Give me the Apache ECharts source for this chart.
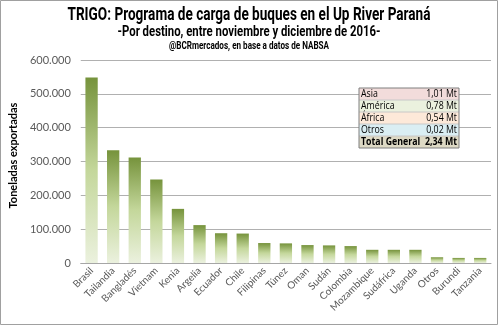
<!DOCTYPE html>
<html><head><meta charset="utf-8">
<script src="https://cdn.jsdelivr.net/npm/echarts@6/dist/echarts.min.js"></script>
<style>html,body{margin:0;padding:0;background:#fff}#c{width:499px;height:326px}</style>
</head><body><div id="c"></div>
<script>
const categories = ["Brasil","Tailandia","Bangladés","Vietnam","Kenia","Argelia","Ecuador","Chile","Filipinas","Túnez","Oman","Sudán","Colombia","Mozambique","Sudáfrica","Uganda","Otros","Burundi","Tanzania"];
const tonnes = [548000,333000,312000,247000,160000,112000,88000,87000,59000,58000,53000,52000,50000,39000,39000,39000,17000,15000,15000];
const yTicks = [0,100000,200000,300000,400000,500000,600000];
const regionNames = ["Asia","América","África","Otros","Total General"];
const regionValues = ["1,01 Mt","0,78 Mt","0,54 Mt","0,02 Mt","2,34 Mt"];
const regionColors = ["#f2dcdb","#ebf1de","#fde9d9","#daeef3","#ddd9c4"];
const titleLines = ["TRIGO: Programa de carga de buques en el Up River Paraná","-Por destino, entre noviembre y diciembre de 2016-","@BCRmercados, en base a datos de NABSA"];

const chart = echarts.init(document.getElementById('c'));
const fmt = v => String(v).replace(/\B(?=(\d{3})+(?!\d))/g, '.');

const cv = document.createElement('canvas').getContext('2d');
const titleSpecs = [{size:19,w:363,y:15},{size:15,w:263,y:32},{size:10.5,w:160,y:46}];
const titleEls = titleLines.map((t,i)=>{
  const s = titleSpecs[i];
  cv.font = 'bold '+s.size+'px Roboto';
  const w = cv.measureText(t).width;
  return {type:'text',x:249,y:s.y,scaleX:s.w/w,
    style:{text:t,fontSize:s.size,fontWeight:'bold',fontFamily:'Roboto',fill:'#000',align:'center',verticalAlign:'middle'},z:15};
});

const tx = 359, ty = 88, tw = 100, rh = 12;
const tableEls = [];
const tf = '"Open Sans",sans-serif';
regionNames.forEach((n,i)=>{
  const cy = ty+i*rh+rh/2;
  tableEls.push({type:'rect',shape:{x:tx,y:ty+i*rh,width:tw,height:rh},style:{fill:regionColors[i],stroke:null},z:10});
  tableEls.push({type:'text',x:tx+2,y:cy,scaleX:0.88,style:{text:n,fontSize:10,fontWeight:i===4?'bold':'normal',fill:'#000',verticalAlign:'middle',fontFamily:tf},z:11});
  tableEls.push({type:'text',x:tx+tw-2,y:cy,scaleX:0.88,style:{text:regionValues[i],fontSize:10,fontWeight:i===4?'bold':'normal',fill:'#000',align:'right',verticalAlign:'middle',fontFamily:tf},z:11});
  if(i>0) tableEls.push({type:'line',shape:{x1:tx,y1:ty+i*rh,x2:tx+tw,y2:ty+i*rh},style:{stroke:'#c8c8c8',lineWidth:1},z:11});
});
tableEls.push({type:'rect',shape:{x:tx,y:ty,width:tw,height:rh*5},style:{fill:null,stroke:'#7f7f7f',lineWidth:1},z:12});

chart.setOption({
  animation:false,
  grid:{left:70,right:8,top:60,bottom:63,containLabel:false},
  xAxis:{type:'category',data:categories,
    axisLine:{lineStyle:{color:'#a6a6a6'}},axisTick:{show:false},
    axisLabel:{rotate:45,fontSize:10,color:'#595959',margin:6,interval:0,fontFamily:'Lato,sans-serif'}},
  yAxis:{type:'value',min:0,max:600000,interval:100000,
    name:'Toneladas exportadas',nameLocation:'middle',nameGap:54,nameRotate:90,
    nameTextStyle:{fontSize:11,fontWeight:'bold',color:'#000',fontFamily:'Lato,sans-serif',padding:[0,0,0,12]},
    axisLine:{show:false},axisTick:{show:false},
    splitLine:{lineStyle:{color:'#b0b0b0'}},
    axisLabel:{fontSize:11,color:'#595959',margin:10,fontFamily:'Lato,sans-serif',formatter:v=>yTicks.includes(v)?fmt(v):''}},
  series:[{type:'bar',data:tonnes,barCategoryGap:'43%',
    itemStyle:{color:new echarts.graphic.LinearGradient(0,0,0,1,[
      {offset:0,color:'#76933c'},{offset:0.5,color:'#c4d79b'},{offset:1,color:'#ebf1de'}]),
      borderColor:'#d7e4bd',borderWidth:0}}],
  graphic:[
    {type:'rect',shape:{x:0.5,y:0.5,width:497,height:324},style:{fill:null,stroke:'#a0a0a0',lineWidth:1},z:20},
    {type:'group',children:titleEls},
    {type:'group',children:tableEls}
  ]
});
</script></body></html>
